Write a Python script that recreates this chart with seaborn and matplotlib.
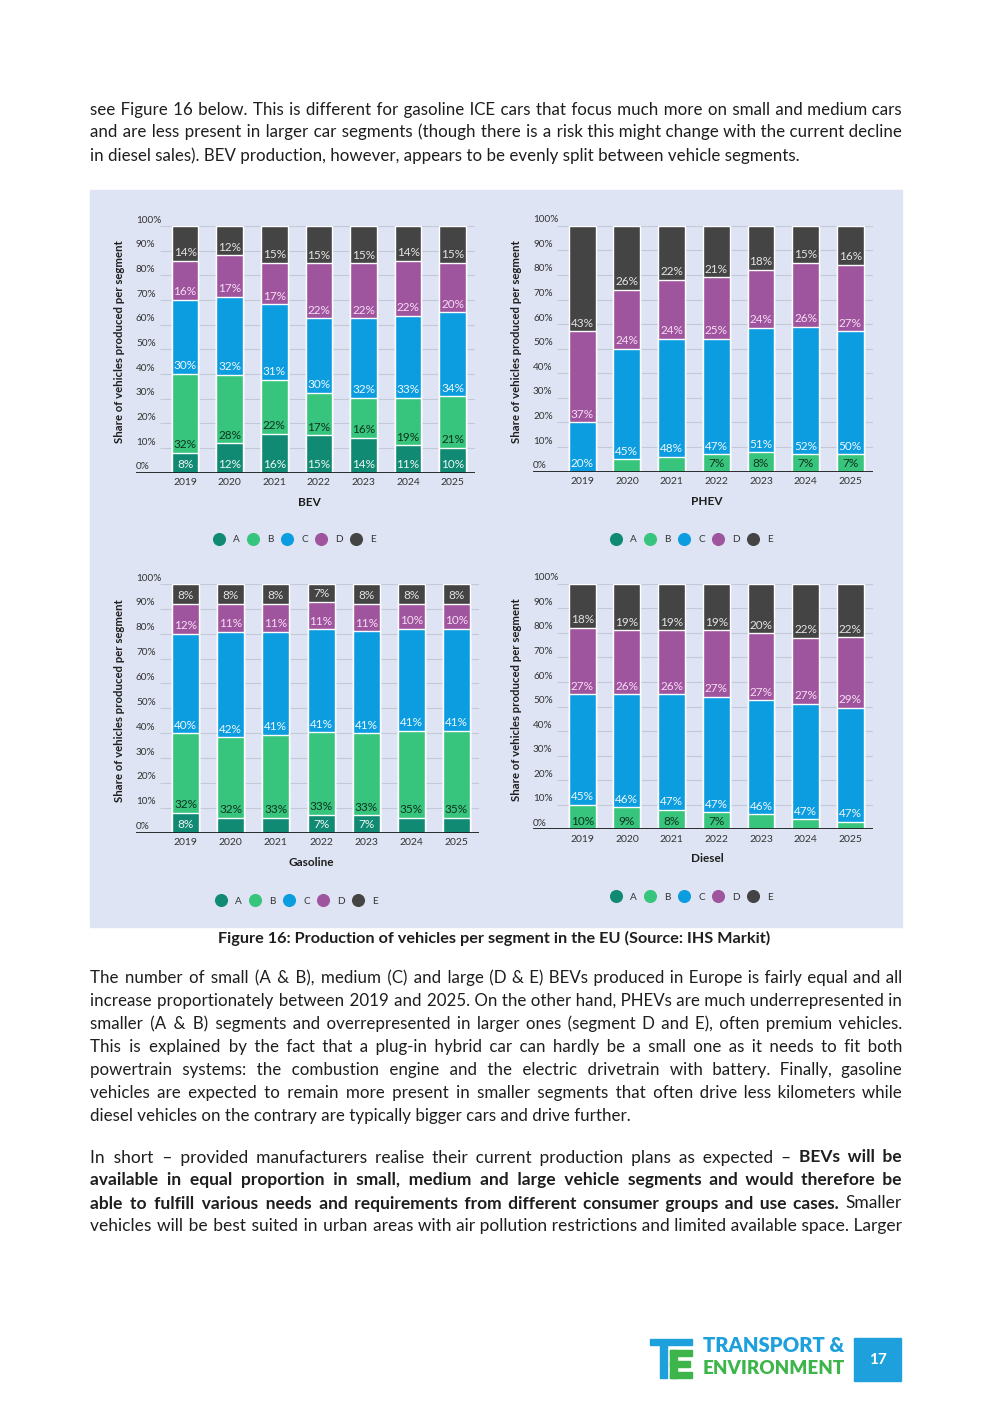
"""
Figure 16 page: production of vehicles per segment in the EU (IHS Markit)
Four 100% stacked bar charts (BEV, PHEV, Gasoline, Diesel) on a report page.
"""

import numpy as np
import seaborn as sns
import matplotlib.pyplot as plt
from matplotlib import font_manager
from matplotlib.lines import Line2D
from matplotlib.patches import Rectangle

# -------------------------------
# Data
# -------------------------------
years = ["2019", "2020", "2021", "2022", "2023", "2024", "2025"]
segments = ["A", "B", "C", "D", "E"]

bev_a = [8, 12, 16, 15, 14, 11, 10]
bev_b = [32, 28, 22, 17, 16, 19, 21]
bev_c = [30, 32, 31, 30, 32, 33, 34]
bev_d = [16, 17, 17, 22, 22, 22, 20]
bev_e = [14, 12, 15, 15, 15, 14, 15]

phev_a = [0, 0, 0, 0, 0, 0, 0]
phev_b = [0, 5, 6, 7, 8, 7, 7]
phev_c = [20, 45, 48, 47, 51, 52, 50]
phev_d = [37, 24, 24, 25, 24, 26, 27]
phev_e = [43, 26, 22, 21, 18, 15, 16]

gas_a = [8, 6, 6, 7, 7, 6, 6]
gas_b = [32, 32, 33, 33, 33, 35, 35]
gas_c = [40, 42, 41, 41, 41, 41, 41]
gas_d = [12, 11, 11, 11, 11, 10, 10]
gas_e = [8, 8, 8, 7, 8, 8, 8]

die_a = [0, 0, 0, 0, 0, 0, 0]
die_b = [10, 9, 8, 7, 6, 4, 3]
die_c = [45, 46, 47, 47, 46, 47, 47]
die_d = [27, 26, 26, 27, 27, 27, 29]
die_e = [18, 19, 19, 19, 20, 22, 22]

yticks = list(range(0, 101, 10))

seg_colors = ["#118a74", "#37c47c", "#0b9de0", "#9e559e", "#444444"]
lbl_colors = ["#eef7f4", "#0f3320", "#eef8ff", "#f8dcf5", "#e4e4e4"]
BG = "#dee4f3"
GRID = "#c4c9d8"
TXT = "#1e1e1e"

sns.set_theme(style="white")
plt.rcParams["font.family"] = ["Lato", "DejaVu Sans"]

installed = {f.name for f in font_manager.fontManager.ttflist}
NARROW = "Liberation Sans Narrow" if "Liberation Sans Narrow" in installed else "Lato"

W, H = 992, 1403
fig = plt.figure(figsize=(W / 100, H / 100), dpi=100)
fig.patch.set_facecolor("white")

# page axes in pixel coordinates (y down)
page = fig.add_axes([0, 0, 1, 1])
page.set_xlim(0, W)
page.set_ylim(H, 0)
page.axis("off")
renderer = fig.canvas.get_renderer()

page.add_patch(Rectangle((90, 190), 812, 737, color=BG, zorder=0))


def chart_axes(left, right, top, bottom):
    return fig.add_axes([left / W, 1 - bottom / H, (right - left) / W, (bottom - top) / H])


def stacked_chart(ax, series, title):
    vals = np.array(series, dtype=float)
    shares = vals / vals.sum(axis=0) * 100
    cum = np.cumsum(shares, axis=0)

    ax.set_facecolor("none")
    ax.hlines(yticks[1:], -0.56, 6.5, color=GRID, lw=0.8, zorder=0)

    # draw from the top segment down so each cumulative bar covers the one below
    for i in range(len(segments) - 1, -1, -1):
        sns.barplot(x=years, y=cum[i], color=seg_colors[i], width=0.6,
                    saturation=1, errorbar=None, ax=ax, zorder=2)

    for i in range(len(segments)):
        base = cum[i] - shares[i]
        for j in range(len(years)):
            if vals[i, j] >= 7:
                ax.text(j, base[j] + 3.3, f"{int(vals[i, j])}%", ha="center", va="center",
                        fontsize=8.5, color=lbl_colors[i], zorder=3)

    ax.axhline(0, color="#1a1a1a", lw=2, zorder=4)
    for v in yticks:
        ax.text(-1.1, v + 2.4, f"{v}%", ha="left", va="center", fontsize=7.2,
                color="#333333", clip_on=False)

    ax.set_xlim(-1.1, 6.5)
    ax.set_ylim(0, 100)
    ax.set_yticks([])
    ax.set_xticks(range(len(years)))
    ax.set_xticklabels(years)
    ax.tick_params(axis="x", length=0, pad=4, labelsize=7.5, labelcolor="#333333")
    ax.set_xlabel("")
    ax.set_ylabel("Share of vehicles produced per segment", fontsize=8.2,
                  fontweight="bold", color=TXT)
    ax.yaxis.set_label_coords(-0.033, 0.53)
    ax.text(0.512, -0.12, title, transform=ax.transAxes, ha="center", va="center",
            fontsize=8.5, fontweight="bold", color=TXT)
    sns.despine(ax=ax, left=True, bottom=True)


def seg_legend(cx, cy):
    handles = [Line2D([], [], marker="o", ls="", markersize=8.4, color=c) for c in seg_colors]
    fig.legend(handles, segments, loc="center", bbox_to_anchor=(cx / W, 1 - cy / H),
               ncol=5, frameon=False, fontsize=7.2, handlelength=1.0, handletextpad=0.9,
               columnspacing=0.85, labelcolor="#333333")


ax_bev = chart_axes(136, 475, 226, 472.7)
stacked_chart(ax_bev, [bev_a, bev_b, bev_c, bev_d, bev_e], "BEV")
ax_phev = chart_axes(533, 872.7, 225.7, 471.7)
stacked_chart(ax_phev, [phev_a, phev_b, phev_c, phev_d, phev_e], "PHEV")
ax_gas = chart_axes(136, 479, 584, 832.7)
stacked_chart(ax_gas, [gas_a, gas_b, gas_c, gas_d, gas_e], "Gasoline")
ax_die = chart_axes(533, 872.7, 583.7, 829.3)
stacked_chart(ax_die, [die_a, die_b, die_c, die_d, die_e], "Diesel")

seg_legend(295, 540)
seg_legend(692, 540)
seg_legend(297, 901)
seg_legend(692, 897)

# -------------------------------
# Page text (justified lines)
# -------------------------------
X0, X1 = 90, 902
HAIR = "\u200a"


def text_kw(size, bold, fam):
    return dict(fontsize=size, family=[fam, "DejaVu Sans"], color=TXT, va="baseline",
                fontweight="bold" if bold else "normal")


def measure(s, size, bold, fam):
    t = page.text(0, 500, s, **text_kw(size, bold, fam))
    w = t.get_window_extent(renderer).width
    t.remove()
    return w


def split_runs(line):
    runs, bold = [], False
    for word in line.split(" "):
        this = bold
        if word.startswith("**"):
            word, this, bold = word[2:], True, True
        if word.endswith("**"):
            word, bold = word[:-2], False
        if runs and runs[-1][0] == this:
            runs[-1][1].append(word)
        else:
            runs.append([this, [word]])
    return runs


def natural_width(line, size, fam):
    runs = split_runs(line)
    sp = measure("x x", size, False, fam) - measure("xx", size, False, fam)
    return sum(measure(" ".join(ws), size, b, fam) for b, ws in runs) + (len(runs) - 1) * sp


def fit_size(lines, fam, base=12.0):
    widest = max(natural_width(l, base, fam) for l in lines)
    return min(base * 800 / widest, 13.5)


def draw_line(line, y, size, fam, justify=True):
    runs = split_runs(line)
    sp = measure("x x", size, False, fam) - measure("xx", size, False, fam)
    nat = [measure(" ".join(ws), size, b, fam) for b, ws in runs]
    n_gaps = sum(len(ws) for _, ws in runs) - 1
    extra = (X1 - X0 - sum(nat) - (len(runs) - 1) * sp) / n_gaps if justify else 0.0
    x = X0
    for k, (b, ws) in enumerate(runs):
        g = len(ws) - 1
        s = " ".join(ws)
        if justify and g > 0 and extra > 0:
            hair = (measure("x" + HAIR * 20 + "x", size, b, fam) - measure("xx", size, b, fam)) / 20
            n = int(round(g * extra / hair))
            s = ""
            for i, word in enumerate(ws):
                s += word
                if i < g:
                    s += " " + HAIR * (n // g + (1 if i < n % g else 0))
        if justify and k == len(runs) - 1 and k > 0:
            page.text(X1, y, s, ha="right", **text_kw(size, b, fam))
        else:
            t = page.text(x, y, s, ha="left", **text_kw(size, b, fam))
            x += t.get_window_extent(renderer).width + sp + extra


para1 = [
    "see Figure 16 below. This is different for gasoline ICE cars that focus much more on small and medium cars",
    "and are less present in larger car segments (though there is a risk this might change with the current decline",
    "in diesel sales). BEV production, however, appears to be evenly split between vehicle segments.",
]
para2 = [
    "The number of small (A & B), medium (C) and large (D & E) BEVs produced in Europe is fairly equal and all",
    "increase proportionately between 2019 and 2025. On the other hand, PHEVs are much underrepresented in",
    "smaller (A & B) segments and overrepresented in larger ones (segment D and E), often premium vehicles.",
    "This is explained by the fact that a plug-in hybrid car can hardly be a small one as it needs to fit both",
    "powertrain systems: the combustion engine and the electric drivetrain with battery. Finally, gasoline",
    "vehicles are expected to remain more present in smaller segments that often drive less kilometers while",
    "diesel vehicles on the contrary are typically bigger cars and drive further.",
]
para3 = [
    "In short – provided manufacturers realise their current production plans as expected – **BEVs will be**",
    "**available in equal proportion in small, medium and large vehicle segments and would therefore be**",
    "**able to fulfill various needs and requirements from different consumer groups and use cases.** Smaller",
    "vehicles will be best suited in urban areas with air pollution restrictions and limited available space. Larger",
]

body = fit_size(para1[:-1] + para2[:-1], "Lato")
narrow = fit_size(para3, NARROW)

for k, line in enumerate(para1):
    draw_line(line, 114.5 + 23 * k, body, "Lato", justify=k < len(para1) - 1)
for k, line in enumerate(para2):
    draw_line(line, 982.7 + 23 * k, body, "Lato", justify=k < len(para2) - 1)
for k, line in enumerate(para3):
    draw_line(line, 1162.5 + 23 * k, narrow, NARROW)

cap = page.text(218, 938, "Figure 16: Production of vehicles per segment in the EU (Source: IHS Markit)",
                fontsize=9.5, fontweight="bold", color=TXT, ha="left", va="center")
cap.set_fontsize(9.5 * 555 / cap.get_window_extent(renderer).width)

# -------------------------------
# Footer logo and page number
# -------------------------------
BLUE = "#1ea0dc"
GREEN = "#3db54a"
page.add_patch(Rectangle((650, 1339), 42, 6, color=BLUE))
page.add_patch(Rectangle((660, 1345), 7, 33, color=BLUE))
page.add_patch(Rectangle((670, 1350), 7, 28, color=GREEN))
page.add_patch(Rectangle((670, 1350), 22, 6, color=GREEN))
page.add_patch(Rectangle((670, 1361), 20, 6, color=GREEN))
page.add_patch(Rectangle((670, 1372), 22, 6, color=GREEN))
for s, y, c in [("TRANSPORT &", 1346, BLUE), ("ENVIRONMENT", 1369, GREEN)]:
    t = page.text(703, y, s, fontsize=14, fontweight="heavy", color=c, ha="left", va="center")
    t.set_fontsize(14 * 142 / t.get_window_extent(renderer).width)

page.add_patch(Rectangle((854, 1338), 47, 43, color=BLUE))
page.text(877.5, 1359.5, "17", fontsize=11, fontweight="bold", color="white",
          ha="center", va="center")

fig.savefig("out.png", dpi=100)
